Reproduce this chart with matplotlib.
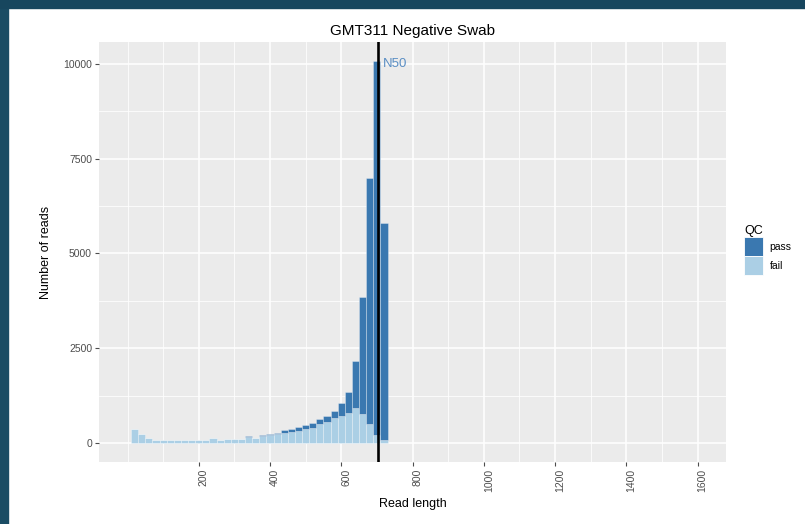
import numpy as np
import matplotlib
matplotlib.use("Agg")
import matplotlib.pyplot as plt
import matplotlib.transforms as mtransforms
from matplotlib.patches import Patch, Rectangle

plt.rcParams['font.family'] = ['Liberation Sans', 'DejaVu Sans']

# read length histogram, 20 bp bins
bin_start = np.arange(10, 730, 20)
fail_reads = [360, 230, 120, 90, 65, 80, 70, 70, 70, 70,
              80, 120, 90, 115, 100, 100, 150, 140, 170, 210,
              231, 258, 284, 319, 363, 389, 495, 555, 670, 713,
              800, 930, 775, 495, 215, 80]
pass_reads = [0] * 16 + [20, 0, 35, 21, 27, 79, 88, 105, 97, 132,
                         130, 158, 175, 327, 555, 1230, 3070, 6490, 9855, 5720]
n50 = 704
binwidth = 20

pass_col = '#3a78b0'
fail_col = '#abcfe5'

fig = plt.figure(figsize=(8.05, 5.24), dpi=100)
ax = fig.add_axes([0.123, 0.1183, 0.779, 0.8015])
ax.set_facecolor('#ebebeb')

fail_arr = np.array(fail_reads)
pass_arr = np.array(pass_reads)
ax.bar(bin_start, fail_arr, width=binwidth, align='edge', color=fail_col,
       edgecolor=(1, 1, 1, 0.35), linewidth=0.6, zorder=3)
ax.bar(bin_start, pass_arr, width=binwidth, align='edge', bottom=fail_arr,
       color=pass_col, edgecolor=(1, 1, 1, 0.35), linewidth=0.6, zorder=3)

ax.axvline(n50, color='black', linewidth=1.9, zorder=4)
ax.text(n50 + 14, 10000, 'N50', color='#5a8ec4', fontsize=9.5,
        ha='left', va='center', zorder=5)

# axis limits like ggplot's 5% expansion
ax.set_xlim(0 - 80, 1600 + 80)
ymax = (fail_arr + pass_arr).max()
ax.set_ylim(-0.05 * ymax, 1.05 * ymax)

ax.set_xticks(np.arange(200, 1601, 200))
ax.set_xticks([0, 100, 300, 500, 700, 900, 1100, 1300, 1500], minor=True)
ax.set_yticks([0, 2500, 5000, 7500, 10000])
ax.set_yticks([1250, 3750, 6250, 8750], minor=True)

ax.grid(which='major', color='white', linewidth=1.1, zorder=0)
ax.grid(which='minor', color='white', linewidth=0.55, zorder=0)
ax.set_axisbelow(True)
for s in ax.spines.values():
    s.set_visible(False)

ax.tick_params(which='major', length=3, width=0.8, color='#4d4d4d',
               labelcolor='#4d4d4d', labelsize=7.5, pad=2)
ax.tick_params(which='minor', length=0)
ax.tick_params(axis='x', labelrotation=90)

# rotated labels sit a little right of their ticks
shift = mtransforms.ScaledTranslation(5 / 100, 0, fig.dpi_scale_trans)
for lbl in ax.get_xticklabels():
    lbl.set_transform(lbl.get_transform() + shift)

ax.set_xlabel('Read length', fontsize=9, labelpad=4)
ax.set_ylabel('Number of reads', fontsize=9, labelpad=8)
ax.set_title('GMT311 Negative Swab', fontsize=11, pad=5)

handles = [Patch(facecolor=pass_col, edgecolor='white', linewidth=0.6, label='pass'),
           Patch(facecolor=fail_col, edgecolor='white', linewidth=0.6, label='fail')]
leg = fig.legend(handles=handles, title='QC', loc='center left',
                 bbox_to_anchor=(0.918, 0.523), frameon=False, fontsize=7.5,
                 title_fontsize=9, handlelength=1.85, handleheight=2.4,
                 labelspacing=0.0, handletextpad=0.6, borderpad=0,
                 alignment='left')

# dark frame strips along the top and left edges
fig.add_artist(Rectangle((0, 0), 8 / 805, 1, transform=fig.transFigure,
                         color='#1a4c64', zorder=10))
fig.add_artist(Rectangle((0, 1 - 8 / 524), 1, 8 / 524, transform=fig.transFigure,
                         color='#17465e', zorder=10))

fig.savefig('out.png', dpi=100)
